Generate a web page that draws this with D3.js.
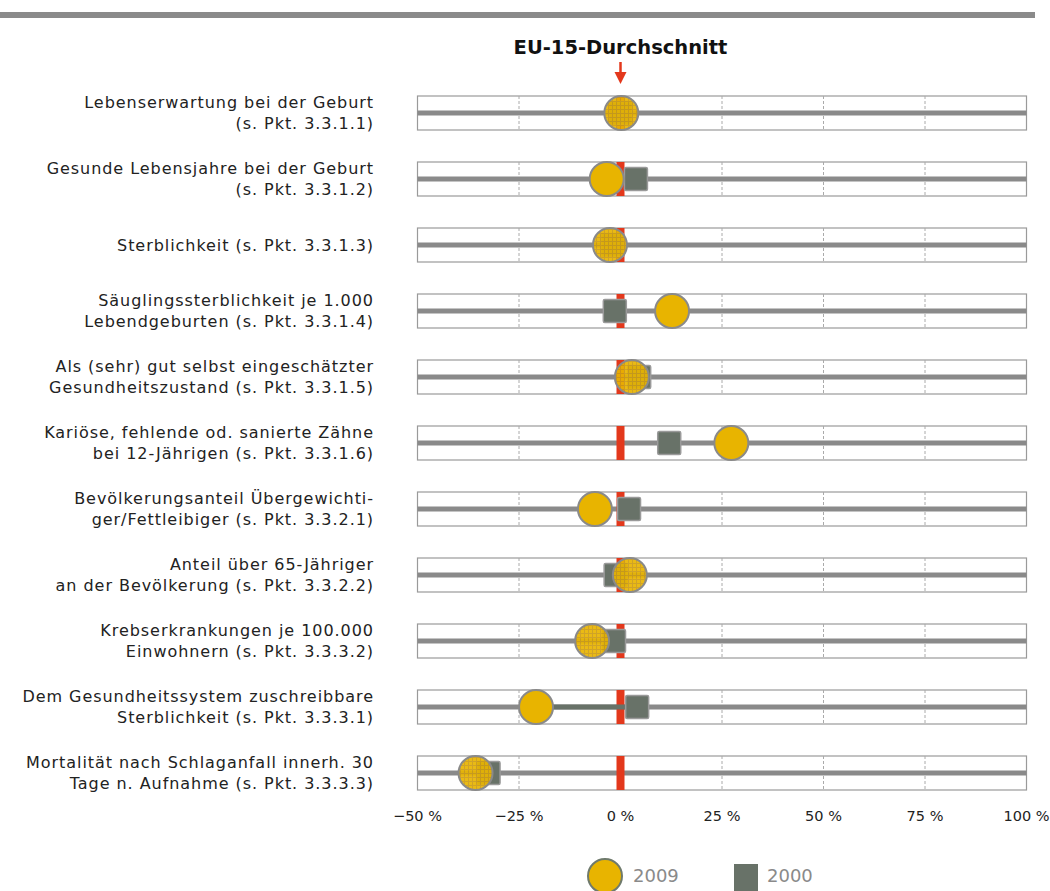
<!DOCTYPE html>
<html>
<head>
<meta charset="utf-8">
<script src="https://cdn.jsdelivr.net/npm/d3@7"></script>
<style>
  body { margin: 0; background: #fff; }
  svg text { font-family: "DejaVu Sans", sans-serif; }
</style>
</head>
<body>
<div id="chart"></div>
<script>
// indicators (two lines each, "" = one line only)
var labels1 = ["Lebenserwartung bei der Geburt", "Gesunde Lebensjahre bei der Geburt", "Sterblichkeit (s. Pkt. 3.3.1.3)",
  "Säuglingssterblichkeit je 1.000", "Als (sehr) gut selbst eingeschätzter", "Kariöse, fehlende od. sanierte Zähne",
  "Bevölkerungsanteil Übergewichti-", "Anteil über 65-Jähriger", "Krebserkrankungen je 100.000",
  "Dem Gesundheitssystem zuschreibbare", "Mortalität nach Schlaganfall innerh. 30"];
var labels2 = ["(s. Pkt. 3.3.1.1)", "(s. Pkt. 3.3.1.2)", "",
  "Lebendgeburten (s. Pkt. 3.3.1.4)", "Gesundheitszustand (s. Pkt. 3.3.1.5)", "bei 12-Jährigen (s. Pkt. 3.3.1.6)",
  "ger/Fettleibiger (s. Pkt. 3.3.2.1)", "an der Bevölkerung (s. Pkt. 3.3.2.2)", "Einwohnern (s. Pkt. 3.3.3.2)",
  "Sterblichkeit (s. Pkt. 3.3.3.1)", "Tage n. Aufnahme (s. Pkt. 3.3.3.3)"];
// deviation from EU-15 average in %
var val2009 = [0.2, -3.4, -2.6, 12.7, 2.8, 27.3, -6.3, 2.3, -7.0, -20.8, -35.7];
var val2000 = [0.0, 3.8, -2.0, -1.4, 4.6, 12.0, 2.1, -1.2, -1.6, 4.1, -32.5];
var linkRows = [9]; // rows where 2009 and 2000 are joined by a dark line
var ticks = [-50, -25, 0, 25, 50, 75, 100];

var width = 1050, height = 891;
var svg = d3.select("#chart").append("svg")
    .attr("width", width).attr("height", height);

var x = d3.scaleLinear().domain([-50, 100]).range([417.5, 1026.5]);
var y = d3.scalePoint().domain(d3.range(labels1.length)).range([113, 773]);
var boxH = 34, r = 17, sq = 23;

// hatch pattern for circles lying on top of the square
var defs = svg.append("defs");
var pat = defs.append("pattern").attr("id", "hatch")
    .attr("patternUnits", "userSpaceOnUse").attr("width", 4).attr("height", 4);
pat.append("rect").attr("width", 4).attr("height", 4).attr("fill", "#e8b400");
pat.append("path").attr("d", "M0,0.5H4M0.5,0V4")
    .attr("stroke", "#c6951a").attr("stroke-width", 1).attr("opacity", 0.8);

// top rule
svg.append("rect").attr("x", 0).attr("y", 12).attr("width", 1035).attr("height", 6).attr("fill", "#8a8a8a");

// title and arrow
svg.append("text").attr("x", x(0)).attr("y", 54)
    .attr("text-anchor", "middle").attr("font-size", 19.5).attr("font-weight", "bold")
    .attr("fill", "#111").text("EU-15-Durchschnitt");
svg.append("line").attr("x1", x(0)).attr("x2", x(0)).attr("y1", 62).attr("y2", 74)
    .attr("stroke", "#e3381c").attr("stroke-width", 2.5);
svg.append("path").attr("d", "M" + (x(0) - 6) + ",72L" + (x(0) + 6) + ",72L" + x(0) + ",84Z")
    .attr("fill", "#e3381c");

var rows = svg.selectAll(".row").data(d3.range(labels1.length)).enter()
    .append("g").attr("class", "row")
    .attr("transform", function(i) { return "translate(0," + y(i) + ")"; });

rows.append("rect")
    .attr("x", x(-50)).attr("y", -boxH / 2)
    .attr("width", x(100) - x(-50)).attr("height", boxH)
    .attr("fill", "#fff").attr("stroke", "#9a9a9a").attr("stroke-width", 1.2);

ticks.slice(1, -1).forEach(function(t) {
  rows.append("line")
      .attr("x1", x(t)).attr("x2", x(t)).attr("y1", -boxH / 2).attr("y2", boxH / 2)
      .attr("stroke", "#aaa").attr("stroke-dasharray", "3,2");
});

rows.append("rect")
    .attr("x", x(-50)).attr("y", -2.5)
    .attr("width", x(100) - x(-50)).attr("height", 5)
    .attr("fill", "#8a8a8a");

rows.append("rect")
    .attr("x", x(0) - 4).attr("y", -boxH / 2)
    .attr("width", 8).attr("height", boxH)
    .attr("fill", "#e3381c");

rows.filter(function(i) { return linkRows.indexOf(i) >= 0; })
    .append("rect")
    .attr("x", function(i) { return x(Math.min(val2009[i], val2000[i])); })
    .attr("y", -2.5)
    .attr("width", function(i) { return Math.abs(x(val2000[i]) - x(val2009[i])); })
    .attr("height", 5)
    .attr("fill", "#687268");

rows.append("rect")
    .attr("x", function(i) { return x(val2000[i]) - sq / 2; })
    .attr("y", -sq / 2)
    .attr("width", sq).attr("height", sq).attr("rx", 1.5)
    .attr("fill", "#687268").attr("stroke", "#9a9a9a").attr("stroke-width", 1.5);

rows.append("circle")
    .attr("cx", function(i) { return x(val2009[i]); })
    .attr("cy", 0).attr("r", r)
    .attr("fill", function(i) {
      var dx = Math.abs(x(val2009[i]) - x(val2000[i]));
      return dx < r + sq / 2 - 1 ? "url(#hatch)" : "#e8b400";
    })
    .attr("fill-opacity", function(i) {
      var dx = Math.abs(x(val2009[i]) - x(val2000[i]));
      return dx < r + sq / 2 - 1 ? 0.92 : 1;
    })
    .attr("stroke", "#8a8a8a").attr("stroke-width", 2);

// labels
rows.append("text")
    .attr("x", 374).attr("text-anchor", "end").attr("font-size", 16)
    .attr("letter-spacing", "0.95px").attr("fill", "#222")
    .each(function(i) {
      var t = d3.select(this);
      if (labels2[i] === "") {
        t.append("tspan").attr("x", 374).attr("y", 6).text(labels1[i]);
      } else {
        t.append("tspan").attr("x", 374).attr("y", -5).text(labels1[i]);
        t.append("tspan").attr("x", 374).attr("y", 16).text(labels2[i]);
      }
    });

// x axis labels
svg.append("g").selectAll("text").data(ticks).enter().append("text")
    .attr("x", function(d) { return x(d); }).attr("y", 821)
    .attr("text-anchor", "middle").attr("font-size", 14.5).attr("fill", "#222")
    .attr("font-family", "Liberation Sans, sans-serif")
    .text(function(d) { return (d < 0 ? "\u2212" + (-d) : d) + " %"; });

// legend
svg.append("circle").attr("cx", 605).attr("cy", 876).attr("r", 17)
    .attr("fill", "#e8b400").attr("stroke", "#6f7a6c").attr("stroke-width", 2);
svg.append("text").attr("x", 633).attr("y", 882).attr("font-size", 18).attr("fill", "#8a8a8a")
    .attr("font-family", "Liberation Sans, sans-serif").text("2009");
svg.append("rect").attr("x", 734).attr("y", 864).attr("width", 24).attr("height", 30)
    .attr("fill", "#687268");
svg.append("text").attr("x", 767).attr("y", 882).attr("font-size", 18).attr("fill", "#8a8a8a")
    .attr("font-family", "Liberation Sans, sans-serif").text("2000");
</script>
</body>
</html>
